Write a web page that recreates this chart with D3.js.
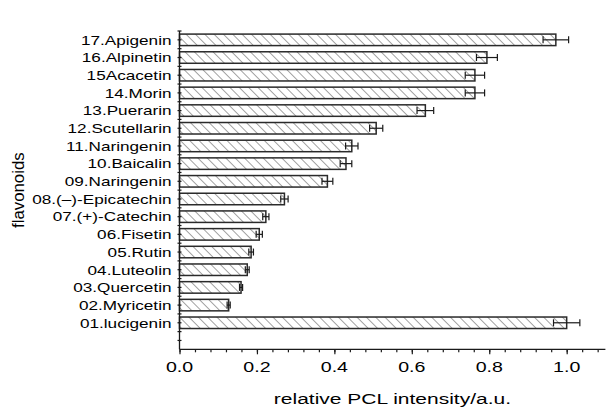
<!DOCTYPE html>
<html>
<head>
<meta charset="utf-8">
<script src="https://cdn.jsdelivr.net/npm/d3@7"></script>
<style>
  html, body { margin: 0; padding: 0; background: #fff; }
  svg { display: block; font-family: "Liberation Sans", Arial, sans-serif; }
</style>
</head>
<body>
<svg id="chart" width="611" height="411"></svg>
<script>
// Relative PCL intensity of each flavonoid (lucigenin = 1.0), with error margins
const categories = [
  "01.lucigenin", "02.Myricetin", "03.Quercetin", "04.Luteolin", "05.Rutin",
  "06.Fisetin", "07.(+)-Catechin", "08.(\u2013)-Epicatechin", "09.Naringenin",
  "10.Baicalin", "11.Naringenin", "12.Scutellarin", "13.Puerarin", "14.Morin",
  "15Acacetin", "16.Alpinetin", "17.Apigenin"
];
const values = [
  1.000, 0.127, 0.159, 0.175, 0.185,
  0.206, 0.223, 0.271, 0.382,
  0.430, 0.445, 0.508, 0.635, 0.763,
  0.763, 0.794, 0.972
];
const errors = [
  0.034, 0.004, 0.004, 0.005, 0.006,
  0.008, 0.008, 0.0095, 0.014,
  0.015, 0.016, 0.017, 0.0215, 0.025,
  0.025, 0.027, 0.033
];
const xTicks = [0.0, 0.2, 0.4, 0.6, 0.8, 1.0];

const svg = d3.select("#chart");
const ink = "#1a1a1a";

const x = d3.scaleLinear().domain([0, 1.1]).range([179.5, 605.4]);
// categories sit at positions 1..17, axis spans -0.5..17.5
const y = d3.scaleLinear().domain([-0.5, 17.5]).range([349.3, 31]);
const barH = 11.5;

// helper: text drawn at (tx, ty), stretched horizontally by sx
function label(g, tx, ty, str, size, anchor, sx) {
  return g.append("text")
    .attr("transform", `translate(${tx},${ty}) scale(${sx},1)`)
    .attr("text-anchor", anchor)
    .attr("font-size", size)
    .attr("fill", "#000")
    .text(str);
}

// diagonal hatch fill (lines running top-left to bottom-right)
const defs = svg.append("defs");
const pat = defs.append("pattern")
  .attr("id", "hatch")
  .attr("patternUnits", "userSpaceOnUse")
  .attr("x", x(0)).attr("y", 0)
  .attr("width", 6.6).attr("height", 6.6)
  .attr("patternTransform", "rotate(-45)");
pat.append("rect").attr("width", 6.6).attr("height", 6.6).attr("fill", "#fff");
pat.append("line")
  .attr("x1", 0).attr("y1", 0).attr("x2", 0).attr("y2", 6.6)
  .attr("stroke", "#333").attr("stroke-width", 0.9);

const rows = categories.map((c, i) => ({ name: c, pos: i + 1, v: values[i], e: errors[i] }));

// bars
svg.append("g").selectAll("rect")
  .data(rows).join("rect")
  .attr("x", x(0))
  .attr("y", d => y(d.pos) - barH / 2)
  .attr("width", d => x(d.v) - x(0))
  .attr("height", barH)
  .attr("fill", "url(#hatch)")
  .attr("stroke", "#2a2a2a")
  .attr("stroke-width", 1.5);

// error bars
const eb = svg.append("g").attr("stroke", ink).attr("stroke-width", 1.2).attr("fill", "none");
rows.forEach(d => {
  const cy = y(d.pos);
  eb.append("line").attr("x1", x(d.v - d.e)).attr("x2", x(d.v + d.e)).attr("y1", cy).attr("y2", cy);
  eb.append("line").attr("x1", x(d.v - d.e)).attr("x2", x(d.v - d.e)).attr("y1", cy - 3.5).attr("y2", cy + 3.5);
  eb.append("line").attr("x1", x(d.v + d.e)).attr("x2", x(d.v + d.e)).attr("y1", cy - 3.5).attr("y2", cy + 3.5);
});

// bottom axis with minor ticks
const xAxisY = y(-0.5);
const gx = svg.append("g").attr("transform", `translate(0,${xAxisY})`);
gx.call(d3.axisBottom(x).tickValues(d3.range(0, 1.1001, 0.04)).tickSize(3).tickFormat(""))
  .call(g => g.select(".domain").remove());
gx.append("g")
  .call(d3.axisBottom(x).tickValues(xTicks).tickSize(5).tickFormat(""))
  .call(g => g.select(".domain").remove());
gx.selectAll("line").attr("stroke", ink).attr("stroke-width", 1.2);
gx.append("line").attr("x1", x(0)).attr("x2", x(1.1)).attr("y1", 0).attr("y2", 0)
  .attr("stroke", ink).attr("stroke-width", 1.3);
xTicks.forEach(t => label(gx, x(t), 22.4, d3.format(".1f")(t), 14, "middle", 1.4));

// left axis: ticks at every half position, labels at category positions
const gy = svg.append("g").attr("transform", `translate(${x(0)},0)`);
gy.append("line").attr("x1", 0).attr("x2", 0).attr("y1", y(17.5)).attr("y2", y(-0.5))
  .attr("stroke", ink).attr("stroke-width", 1.3);
gy.selectAll("line.tk").data(d3.range(0, 18, 0.5)).join("line")
  .attr("class", "tk")
  .attr("x1", -2).attr("x2", 2)
  .attr("y1", d => y(d)).attr("y2", d => y(d))
  .attr("stroke", ink).attr("stroke-width", 1.2);
rows.forEach(d => label(gy, -8, y(d.pos) + 4.8, d.name, 13, "end", 1.32));

// axis titles
label(svg, (x(0) + x(1.1)) / 2, 404, "relative PCL intensity/a.u.", 15, "middle", 1.4);
svg.append("text")
  .attr("transform", `translate(24,${(y(-0.5) + y(17.5)) / 2}) rotate(-90) scale(1.12,1.1)`)
  .attr("text-anchor", "middle").attr("font-size", 15).attr("fill", "#000")
  .text("flavonoids");
</script>
</body>
</html>
